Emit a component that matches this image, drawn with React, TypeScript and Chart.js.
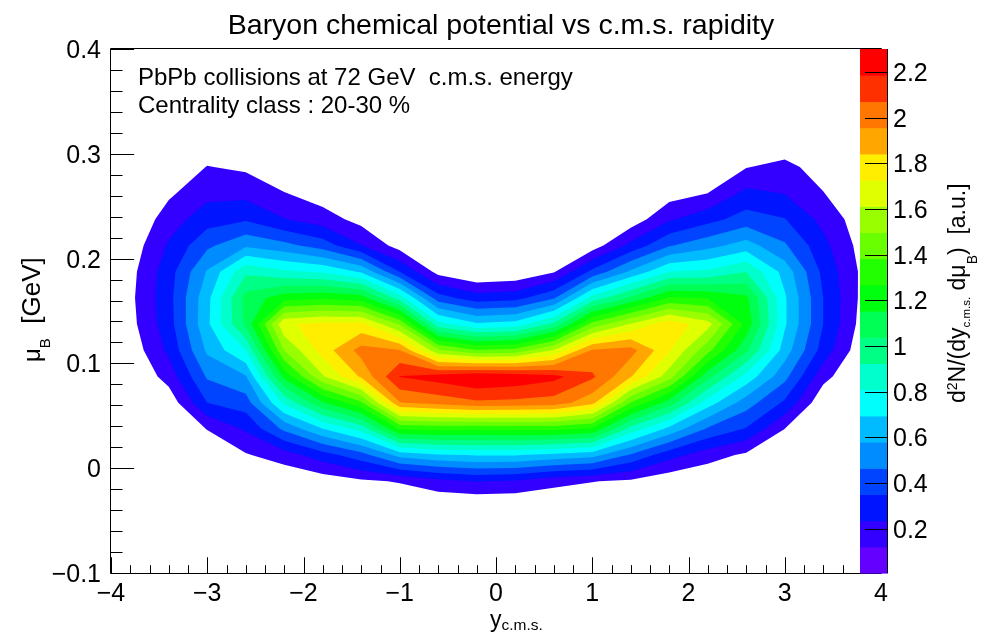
import React, { useEffect, useRef } from "react";
import { Chart, registerables } from "chart.js";

Chart.register(...registerables);

// ---------------- data ----------------
// bin centres of the 2D histogram
const rapidityCenters = [-3.8, -3.4, -3.0, -2.6, -2.2, -1.8, -1.4, -1.0, -0.6, -0.2, 0.2, 0.6, 1.0, 1.4, 1.8, 2.2, 2.6, 3.0, 3.4, 3.8];
const muBCenters = [-0.0875, -0.0625, -0.0375, -0.0125, 0.0125, 0.0375, 0.0625, 0.0875, 0.1125, 0.1375, 0.1625, 0.1875, 0.2125, 0.2375, 0.2625, 0.2875, 0.3125, 0.3375, 0.3625, 0.3875];

// d2N/(dy dmuB) per rapidity bin, listed from lowest muB bin to highest
const yield_m38 = [0, 0, 0, 0, 0, 0, 0, 0, 0.046, 0.083, 0.094, 0.083, 0.052, 0.011, 0, 0, 0, 0, 0, 0];
const yield_m34 = [0, 0, 0, 0, 0, 0, 0.045, 0.17, 0.26, 0.3, 0.31, 0.3, 0.25, 0.18, 0.1, 0.03, 0, 0, 0, 0];
const yield_m30 = [0, 0, 0, 0, 0.02, 0.125, 0.35, 0.48, 0.6, 0.67, 0.66, 0.59, 0.44, 0.3, 0.2, 0.125, 0.02, 0, 0, 0];
const yield_m26 = [0, 0, 0, 0, 0.11, 0.25, 0.41, 0.57, 0.81, 1.06, 1.08, 0.9, 0.56, 0.335, 0.2, 0.1, 0.02, 0, 0, 0];
const yield_m22 = [0, 0, 0, 0.02, 0.18, 0.49, 0.83, 1.19, 1.5, 1.71, 1.22, 0.83, 0.5, 0.24, 0.125, 0.03, 0, 0, 0, 0];
const yield_m18 = [0, 0, 0, 0.05, 0.3, 0.69, 1.14, 1.6, 1.78, 1.76, 1.25, 0.79, 0.41, 0.175, 0.06, 0, 0, 0, 0, 0];
const yield_m14 = [0, 0, 0, 0.1, 0.42, 0.85, 1.36, 1.86, 2.0, 1.76, 1.21, 0.68, 0.24, 0.08, 0, 0, 0, 0, 0, 0];
const yield_m10 = [0, 0, 0, 0.13, 0.62, 1.28, 1.95, 2.19, 1.96, 1.48, 0.87, 0.35, 0.07, 0, 0, 0, 0, 0, 0, 0];
const yield_m06 = [0, 0, 0, 0.2, 0.68, 1.3, 2.0, 2.24, 1.52, 0.85, 0.4, 0.08, 0, 0, 0, 0, 0, 0, 0, 0];
const yield_m02 = [0, 0, 0, 0.24, 0.7, 1.29, 2.05, 2.3, 1.39, 0.71, 0.29, 0, 0, 0, 0, 0, 0, 0, 0, 0];
const yield_p02 = [0, 0, 0, 0.22, 0.7, 1.3, 2.04, 2.27, 1.42, 0.74, 0.31, 0.02, 0, 0, 0, 0, 0, 0, 0, 0];
const yield_p06 = [0, 0, 0, 0.16, 0.66, 1.3, 2.02, 2.22, 1.62, 0.95, 0.45, 0.11, 0, 0, 0, 0, 0, 0, 0, 0];
const yield_p10 = [0, 0, 0, 0.125, 0.62, 1.25, 1.88, 2.09, 1.97, 1.42, 0.85, 0.38, 0.06, 0, 0, 0, 0, 0, 0, 0];
const yield_p14 = [0, 0, 0, 0.1, 0.45, 0.88, 1.38, 1.85, 2.0, 1.62, 1.06, 0.6, 0.27, 0.05, 0, 0, 0, 0, 0, 0];
const yield_p18 = [0, 0, 0, 0.04, 0.28, 0.66, 1.1, 1.55, 1.74, 1.8, 1.28, 0.81, 0.455, 0.22, 0.07, 0, 0, 0, 0, 0];
const yield_p22 = [0, 0, 0, 0.02, 0.17, 0.45, 0.75, 1.08, 1.42, 1.66, 1.26, 0.83, 0.54, 0.31, 0.12, 0.03, 0, 0, 0, 0];
const yield_p26 = [0, 0, 0, 0, 0.1, 0.34, 0.52, 0.77, 1.06, 1.23, 1.18, 0.92, 0.63, 0.4, 0.265, 0.115, 0.01, 0, 0, 0];
const yield_p30 = [0, 0, 0, 0, 0.02, 0.12, 0.33, 0.5, 0.64, 0.71, 0.71, 0.65, 0.48, 0.355, 0.23, 0.16, 0.02, 0, 0, 0];
const yield_p34 = [0, 0, 0, 0, 0, 0, 0.03, 0.16, 0.3, 0.35, 0.35, 0.32, 0.27, 0.2, 0.125, 0.06, 0, 0, 0, 0];
const yield_p38 = [0, 0, 0, 0, 0, 0, 0, 0, 0.044, 0.08, 0.095, 0.099, 0.078, 0.056, 0, 0, 0, 0, 0, 0];

const yieldColumns = [
  yield_m38, yield_m34, yield_m30, yield_m26, yield_m22, yield_m18, yield_m14, yield_m10, yield_m06, yield_m02,
  yield_p02, yield_p06, yield_p10, yield_p14, yield_p18, yield_p22, yield_p26, yield_p30, yield_p34, yield_p38,
];

// axes / palette
const xRange = [-4, 4];
const yRange = [-0.1, 0.4];
const xTickValues = [-4, -3, -2, -1, 0, 1, 2, 3, 4];
const yTickValues = [-0.1, 0, 0.1, 0.2, 0.3, 0.4];
const paletteMin = 0.006;
const paletteMax = 2.3;
const nContours = 20;
const paletteTickValues = [0.2, 0.4, 0.6, 0.8, 1.0, 1.2, 1.4, 1.6, 1.8, 2.0, 2.2];

const titleText = "Baryon chemical potential vs c.m.s. rapidity";
const paveLines = ["PbPb collisions at 72 GeV  c.m.s. energy", "Centrality class : 20-30 %"];

// ---------------- styling helpers ----------------
const FONT = '"Liberation Sans", Arial, Helvetica, sans-serif';

function bandColor(k: number): string {
  const ncolors = 50;
  const idx = Math.floor(((k + 0.99) * ncolors) / nContours);
  if (idx >= ncolors - 1) return "rgb(255,0,0)";
  const hue = 280 - (idx + 1) * (280 / ncolors);
  return `hsl(${hue}, 100%, 50%)`;
}

function fmtNum(v: number, dec: number): string {
  if (Math.abs(v) < 1e-9) return "0";
  const s = String(parseFloat(Math.abs(v).toFixed(dec)));
  return v < 0 ? "\u2212" + s : s;
}

type Seg = { text: string; size: number; dy?: number };

function drawRich(ctx: CanvasRenderingContext2D, x: number, y: number, segs: Seg[], rotate: boolean, align: "left" | "center" = "left") {
  ctx.save();
  ctx.translate(x, y);
  if (rotate) ctx.rotate(-Math.PI / 2);
  ctx.textAlign = "left";
  ctx.textBaseline = "alphabetic";
  let total = 0;
  for (const s of segs) {
    ctx.font = `${s.size}px ${FONT}`;
    total += ctx.measureText(s.text).width;
  }
  let cx = align === "center" ? -total / 2 : 0;
  for (const s of segs) {
    ctx.font = `${s.size}px ${FONT}`;
    ctx.fillText(s.text, cx, s.dy || 0);
    cx += ctx.measureText(s.text).width;
  }
  ctx.restore();
}

type P3 = [number, number, number];

// keep the part of a cell polygon where the (edge-linear) value is >= level
function clipPolygon(poly: P3[], L: number): [number, number][] {
  const out: [number, number][] = [];
  const n = poly.length;
  for (let i = 0; i < n; i++) {
    const a = poly[i];
    const b = poly[(i + 1) % n];
    const ain = a[2] >= L;
    const bin = b[2] >= L;
    if (ain) out.push([a[0], a[1]]);
    if (ain !== bin) {
      const t = (L - a[2]) / (b[2] - a[2]);
      out.push([a[0] + t * (b[0] - a[0]), a[1] + t * (b[1] - a[1])]);
    }
  }
  return out;
}

const contourPlugin = {
  id: "rootContour",
  afterDraw(chart: any) {
    const ctx: CanvasRenderingContext2D = chart.ctx;
    const xs = chart.scales.x;
    const ys = chart.scales.y;
    const area = chart.chartArea;
    const L = area.left, R = area.right, T = area.top, B = area.bottom;

    // -------- filled contours --------
    const nx = rapidityCenters.length;
    const ny = muBCenters.length;
    const px = rapidityCenters.map((v) => xs.getPixelForValue(v));
    const py = muBCenters.map((v) => ys.getPixelForValue(v));
    const levels: number[] = [];
    for (let k = 0; k <= nContours; k++) levels.push(paletteMin + (k * (paletteMax - paletteMin)) / nContours);

    ctx.save();
    ctx.beginPath();
    ctx.rect(L, T, R - L, B - T);
    ctx.clip();
    for (let k = 1; k < nContours; k++) {
      const lev = levels[k];
      const path = new Path2D();
      for (let i = 0; i < nx - 1; i++) {
        for (let j = 0; j < ny - 1; j++) {
          const z00 = yieldColumns[i][j];
          const z10 = yieldColumns[i + 1][j];
          const z11 = yieldColumns[i + 1][j + 1];
          const z01 = yieldColumns[i][j + 1];
          if (Math.max(z00, z10, z11, z01) < lev) continue;
          const quad: P3[] = [
            [px[i], py[j], z00],
            [px[i + 1], py[j], z10],
            [px[i + 1], py[j + 1], z11],
            [px[i], py[j + 1], z01],
          ];
          const poly = clipPolygon(quad, lev);
          if (poly.length < 3) continue;
          path.moveTo(poly[0][0], poly[0][1]);
          for (let m = 1; m < poly.length; m++) path.lineTo(poly[m][0], poly[m][1]);
          path.closePath();
        }
      }
      ctx.fillStyle = bandColor(k);
      ctx.fill(path);
    }
    ctx.restore();

    // -------- frame and ticks --------
    ctx.save();
    ctx.strokeStyle = "#000";
    ctx.lineWidth = 1;
    ctx.beginPath();
    ctx.rect(L - 0.5, T - 0.5, R - L + 1, B - T + 1);
    ctx.stroke();

    const xMajLen = 0.03 * (B - T);
    const yMajLen = 0.03 * (R - L);
    ctx.beginPath();
    for (let t = 0; t < xTickValues.length; t++) {
      const v = xTickValues[t];
      const xp = Math.round(xs.getPixelForValue(v)) + 0.5;
      ctx.moveTo(xp, B);
      ctx.lineTo(xp, B - xMajLen);
      if (t < xTickValues.length - 1) {
        const step = (xTickValues[t + 1] - v) / 5;
        for (let s = 1; s < 5; s++) {
          const xm = Math.round(xs.getPixelForValue(v + s * step)) + 0.5;
          ctx.moveTo(xm, B);
          ctx.lineTo(xm, B - xMajLen / 2);
        }
      }
    }
    for (let t = 0; t < yTickValues.length; t++) {
      const v = yTickValues[t];
      const yp = Math.round(ys.getPixelForValue(v)) + 0.5;
      ctx.moveTo(L, yp);
      ctx.lineTo(L + yMajLen, yp);
      if (t < yTickValues.length - 1) {
        const step = (yTickValues[t + 1] - v) / 5;
        for (let s = 1; s < 5; s++) {
          const ym = Math.round(ys.getPixelForValue(v + s * step)) + 0.5;
          ctx.moveTo(L, ym);
          ctx.lineTo(L + yMajLen / 2, ym);
        }
      }
    }
    ctx.stroke();

    // tick labels
    ctx.fillStyle = "#000";
    ctx.font = `25px ${FONT}`;
    ctx.textBaseline = "alphabetic";
    ctx.textAlign = "center";
    for (const v of xTickValues) {
      ctx.fillText(fmtNum(v, 0), xs.getPixelForValue(v), B + 28);
    }
    ctx.textAlign = "right";
    for (const v of yTickValues) {
      ctx.fillText(fmtNum(v, 1), L - 10, ys.getPixelForValue(v) + 9);
    }

    // -------- palette --------
    const palL = 860, palR = 888;
    const zToPix = (z: number) => B - ((z - paletteMin) / (paletteMax - paletteMin)) * (B - T);
    for (let k = 0; k < nContours; k++) {
      const y0 = zToPix(levels[k]);
      const y1 = zToPix(levels[k + 1]);
      ctx.fillStyle = bandColor(k);
      ctx.fillRect(palL, y1, palR - palL, y0 - y1 + 0.6);
    }
    ctx.strokeStyle = "#000";
    ctx.beginPath();
    ctx.moveTo(palR - 0.5, T);
    ctx.lineTo(palR - 0.5, B);
    for (const v of paletteTickValues) {
      const yp = Math.round(zToPix(v)) + 0.5;
      ctx.moveTo(palR, yp);
      ctx.lineTo(palR - 23, yp);
    }
    ctx.stroke();
    ctx.fillStyle = "#000";
    ctx.font = `25px ${FONT}`;
    ctx.textAlign = "left";
    for (const v of paletteTickValues) {
      ctx.fillText(fmtNum(v, 1), palR + 5, zToPix(v) + 9);
    }

    // -------- titles --------
    ctx.fillStyle = "#000";
    drawRich(ctx, 501, 34, [{ text: titleText, size: 28.5 }], false, "center");

    // x axis title: y_{c.m.s.}
    drawRich(ctx, 490, 627, [
      { text: "y", size: 23 },
      { text: "c.m.s.", size: 15.5, dy: 3 },
    ], false);

    // y axis title: mu_B  [GeV]
    drawRich(ctx, 40, 362, [
      { text: "\u03bc", size: 24 },
      { text: "B", size: 15, dy: 10 },
      { text: "  [GeV]", size: 26 },
    ], true);

    // palette title
    drawRich(ctx, 965, 403, [
      { text: "d", size: 23 },
      { text: "2", size: 14, dy: -8 },
      { text: "N/(dy", size: 23 },
      { text: "c.m.s.", size: 11.5, dy: 5 },
      { text: " d\u03bc", size: 23 },
      { text: "B", size: 14, dy: 12 },
      { text: ")  [a.u.]", size: 23 },
    ], true);

    // pave text
    ctx.font = `24px ${FONT}`;
    ctx.textAlign = "left";
    ctx.textBaseline = "alphabetic";
    ctx.fillText(paveLines[0], 138, 85);
    ctx.fillText(paveLines[1], 138, 113);
    ctx.restore();
  },
};

export default function App() {
  const canvasRef = useRef<HTMLCanvasElement | null>(null);

  useEffect(() => {
    const canvas = canvasRef.current;
    if (!canvas) return;
    const points: { x: number; y: number }[] = [];
    rapidityCenters.forEach((x) => muBCenters.forEach((y) => points.push({ x, y })));
    const chart = new Chart(canvas, {
      type: "scatter",
      data: {
        datasets: [
          {
            data: points,
            pointRadius: 0,
            pointHoverRadius: 0,
            showLine: false,
          },
        ],
      },
      options: {
        animation: false,
        responsive: false,
        devicePixelRatio: 1,
        events: [],
        layout: { padding: { left: 111, right: 104, top: 49, bottom: 62 } },
        plugins: {
          legend: { display: false },
          tooltip: { enabled: false },
          title: { display: false },
        },
        scales: {
          x: { type: "linear", min: xRange[0], max: xRange[1], display: false },
          y: { type: "linear", min: yRange[0], max: yRange[1], display: false },
        },
      },
      plugins: [contourPlugin],
    });
    return () => chart.destroy();
  }, []);

  return (
    <div style={{ position: "absolute", left: 0, top: 0, width: 985, height: 635, background: "#fff" }}>
      <canvas ref={canvasRef} width={985} height={635} style={{ display: "block" }} />
    </div>
  );
}
